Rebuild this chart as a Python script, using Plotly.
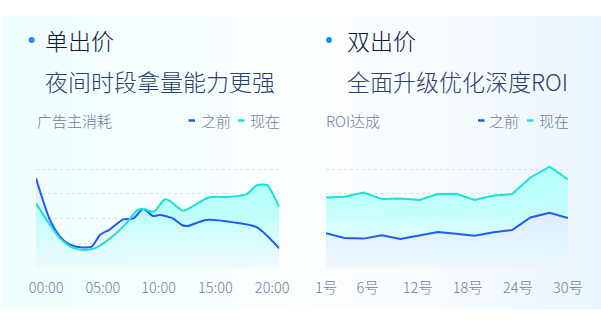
import plotly.graph_objects as go

W, H = 601, 320

# ---------------- data ----------------
# left chart: 广告主消耗 (x in hours)
L_BEFORE_X = [0, 1.38, 2.37, 3.19, 4.01, 5.49, 6.31, 7.30, 8.61, 9.60, 10.58, 11.57, 12.2, 13.5, 14.4, 14.9, 16.8, 19.5, 21.8, 24]
L_BEFORE_Y = [72.5, 38.9, 25.5, 19.6, 17.4, 17.4, 26.8, 31.4, 39.4, 40.2, 47.7, 42.1, 42.9, 40.2, 34.9, 34.0, 38.9, 37.0, 33.0, 16.0]
L_NOW_X = [0, 1.38, 2.37, 3.6, 4.8, 5.8, 7.3, 8.9, 10.0, 10.6, 11.6, 12.7, 13.2, 14.5, 15.5, 17.0, 19.1, 20.8, 21.8, 22.8, 23.9, 24]
L_NOW_Y = [52.3, 34.9, 24.1, 16.6, 14.7, 16.1, 24.1, 36.2, 46.9, 47.7, 45.6, 55.5, 54.4, 46.4, 50.1, 57.1, 57.6, 59.8, 67.0, 67.0, 50.9, 49.5]
L_TICK_LABELS = ["00:00", "05:00", "10:00", "15:00", "20:00"]
L_TICK_POS = [1.0, 6.6, 12.1, 17.7, 23.3]

# right chart: ROI达成 (x in day of month)
R_X = [1, 3.2, 5.5, 7.7, 9.9, 12.2, 14.4, 16.6, 18.8, 21.1, 23.3, 25.5, 27.8, 30]
R_BEFORE_Y = [28.2, 24.4, 23.9, 26.5, 23.6, 26.5, 29.2, 27.9, 26.3, 29.0, 30.8, 41.0, 44.8, 40.5]
R_NOW_Y = [57.1, 57.6, 61.1, 55.8, 56.3, 55.0, 59.8, 60.1, 55.0, 58.7, 59.8, 73.2, 82.0, 71.6]
R_TICK_LABELS = ["1号", "6号", "12号", "18号", "24号", "30号"]
R_TICK_POS = [1, 6, 12, 18, 24, 30]

BLUE = "#1d5cf5"
CYAN = "#17e4d4"
FONT = "Noto Sans CJK SC"

fig = go.Figure()

def px(x):
    return x / W

def py(y):
    return 1 - y / H

LDOM = [px(36), px(279.3)]
RDOM = [px(326), px(568)]
YDOM = [py(268.5), py(144)]

cyan_grad = dict(type="vertical", colorscale=[[0, "rgba(225,255,252,0.35)"], [0.6, "rgba(190,255,250,0.95)"], [1, "rgba(180,255,249,1)"]])
blue_grad = dict(type="vertical", colorscale=[[0, "rgba(236,241,255,0.3)"], [1, "rgba(226,234,255,0.95)"]])

# left fills: blue first, cyan on top
fig.add_trace(go.Scatter(x=L_BEFORE_X, y=L_BEFORE_Y, xaxis="x", yaxis="y", mode="lines",
                         line=dict(width=0, shape="spline", smoothing=0.7), fill="tozeroy",
                         fillgradient=blue_grad, hoverinfo="skip", showlegend=False))
fig.add_trace(go.Scatter(x=L_NOW_X, y=L_NOW_Y, xaxis="x", yaxis="y", mode="lines",
                         line=dict(width=0, shape="spline", smoothing=0.7), fill="tozeroy",
                         fillgradient=cyan_grad, hoverinfo="skip", showlegend=False))
# right fills: cyan first, blue on top
fig.add_trace(go.Scatter(x=R_X, y=R_NOW_Y, xaxis="x2", yaxis="y2", mode="lines",
                         line=dict(width=0), fill="tozeroy",
                         fillgradient=cyan_grad, hoverinfo="skip", showlegend=False))
fig.add_trace(go.Scatter(x=R_X, y=R_BEFORE_Y, xaxis="x2", yaxis="y2", mode="lines",
                         line=dict(width=0), fill="tozeroy",
                         fillgradient=blue_grad, hoverinfo="skip", showlegend=False))
# lines
fig.add_trace(go.Scatter(x=L_BEFORE_X, y=L_BEFORE_Y, xaxis="x", yaxis="y", mode="lines",
                         line=dict(width=2, color=BLUE, shape="spline", smoothing=0.7), showlegend=False))
fig.add_trace(go.Scatter(x=L_NOW_X, y=L_NOW_Y, xaxis="x", yaxis="y", mode="lines",
                         line=dict(width=2, color=CYAN, shape="spline", smoothing=0.7), showlegend=False))
fig.add_trace(go.Scatter(x=R_X, y=R_BEFORE_Y, xaxis="x2", yaxis="y2", mode="lines",
                         line=dict(width=2, color=BLUE), showlegend=False))
fig.add_trace(go.Scatter(x=R_X, y=R_NOW_Y, xaxis="x2", yaxis="y2", mode="lines",
                         line=dict(width=2, color=CYAN), showlegend=False))

tickfont = dict(family=FONT, size=14.5, color="#6f7c98", weight=300)
common_y = dict(range=[-0.2, 100.2], tickvals=[0, 20, 40, 60, 80, 100], showticklabels=False,
                gridcolor="#dcdfe8", griddash="dot", gridwidth=1, zeroline=False,
                showline=False, fixedrange=True, automargin=False)
fig.update_layout(
    width=W, height=H, autosize=False,
    margin=dict(l=0, r=0, t=0, b=0, pad=0, autoexpand=False),
    showlegend=False,
    paper_bgcolor="white", plot_bgcolor="rgba(0,0,0,0)",
    xaxis=dict(domain=LDOM, range=[0, 24], tickvals=L_TICK_POS, ticktext=L_TICK_LABELS,
               showgrid=False, zeroline=False, showline=False, ticks="", tickfont=tickfont,
               automargin=False, ticklabelstandoff=9),
    yaxis=dict(domain=YDOM, anchor="x", **common_y),
    xaxis2=dict(domain=RDOM, range=[1, 30], tickvals=R_TICK_POS, ticktext=R_TICK_LABELS,
                showgrid=False, zeroline=False, showline=False, ticks="", tickfont=tickfont,
                anchor="y2", automargin=False, ticklabelstandoff=9),
    yaxis2=dict(domain=YDOM, anchor="x2", **common_y),
)

# background card gradient (strips)
anchors = [(0, (240, 254, 254)), (180, (246, 254, 255)), (300, (252, 254, 255)),
           (430, (248, 252, 255)), (601, (235, 245, 254))]
def col_at(x):
    for (x0, c0), (x1, c1) in zip(anchors[:-1], anchors[1:]):
        if x0 <= x <= x1:
            t = (x - x0) / (x1 - x0)
            return "rgb(%d,%d,%d)" % tuple(round(a + (b - a) * t) for a, b in zip(c0, c1))
    return "rgb(%d,%d,%d)" % anchors[-1][1]

shapes = []
step = 10
for x0 in range(2, 601, step):
    x1 = min(x0 + step, 601)
    shapes.append(dict(type="rect", xref="paper", yref="paper", x0=px(x0), x1=px(x1),
                       y0=py(309), y1=py(16), fillcolor=col_at((x0 + x1) / 2),
                       line=dict(width=0), layer="below"))

# bullets
for cx in (31.7, 329):
    shapes.append(dict(type="circle", xref="paper", yref="paper",
                       x0=px(cx - 3), x1=px(cx + 3), y0=py(43), y1=py(37),
                       fillcolor="#1e8fff", line=dict(width=0)))
# legend dashes
for x0, c in ((188.5, BLUE), (238, CYAN), (478, BLUE), (527, CYAN)):
    shapes.append(dict(type="line", xref="paper", yref="paper", x0=px(x0), x1=px(x0 + 6.5),
                       y0=py(120.5), y1=py(120.5), line=dict(color=c, width=2.5)))
fig.update_layout(shapes=shapes)

ann = []
def text(x, y, s, size, color, weight=400, xanchor="left"):
    ann.append(dict(x=px(x), y=py(y), xref="paper", yref="paper", text=s, showarrow=False,
                    xanchor=xanchor, yanchor="middle",
                    font=dict(family=FONT, size=size, color=color, weight=weight)))

text(43, 40, "单出价", 23, "#0a1640", 300)
text(43, 81, "夜间时段拿量能力更强", 23, "#2a4170", 300)
text(344.5, 40, "双出价", 23, "#0a1640", 300)
text(344.5, 81, "全面升级优化深度ROI", 23, "#2a4170", 300)
text(34.5, 120, "广告主消耗", 15, "#6f7c98", 300)
text(323.5, 120, "ROI达成", 15, "#6f7c98", 300)
text(198.5, 120, "之前", 15, "#6f7c98", 300)
text(248, 120, "现在", 15, "#6f7c98", 300)
text(487.5, 120, "之前", 15, "#6f7c98", 300)
text(537, 120, "现在", 15, "#6f7c98", 300)
fig.update_layout(annotations=ann)

fig.write_html("out.html", config={"responsive": False})
